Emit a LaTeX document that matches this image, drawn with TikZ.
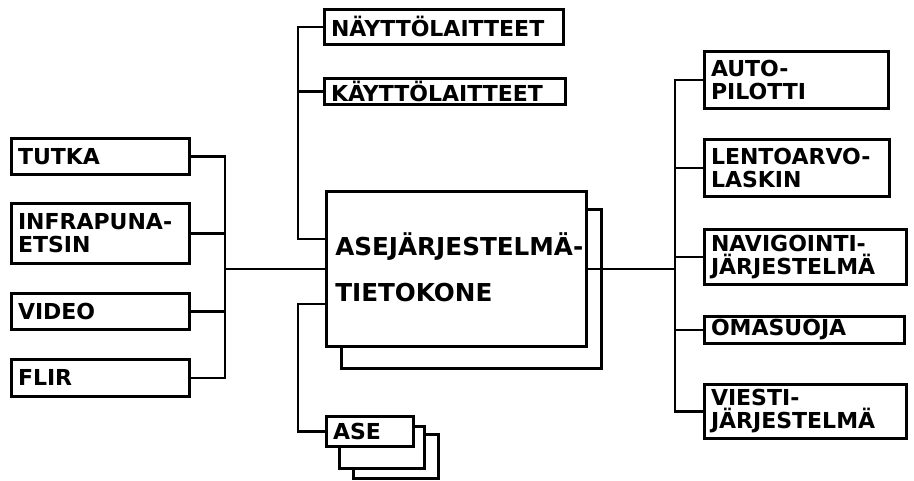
\documentclass[tikz,border=0pt]{standalone}
\usepackage{fontspec}
\setmainfont{DejaVu Sans}
\usetikzlibrary{calc}

\newcommand\lblfont{\bfseries\fontsize{16.5}{17.5}\selectfont}
\newcommand\cpufont{\bfseries\fontsize{18.5}{35}\selectfont}

\tikzset{
  box/.style={draw, fill=white, line width=2pt, inner xsep=5pt, inner ysep=0pt,
              align=left, font=\lblfont},
  wire/.style={line width=2pt},
}

% box from its top-left (x1,y1) to its bottom-right (x2,y2), in pixel units
\newcommand\bx[7][]{%
  \pgfmathsetmacro\bxw{(#5-#3)*0.75}%
  \pgfmathsetmacro\bxh{(#6-#4)*0.75}%
  \pgfmathsetmacro\bxt{(#5-#3)*0.75-10}%
  \node[box, minimum width=\bxw pt, minimum height=\bxh pt, text width=\bxt pt,
        anchor=north west, #1] (#2) at (#3,#4) {#7};%
}

\begin{document}
\begin{tikzpicture}[x=0.75pt, y=-0.75pt]
\useasboundingbox[fill=white] (0,0) rectangle (914,480);

% main computer with its shadow sheet
\bx{shadow}{340}{208}{600}{367}{}
\bx{main}{325}{190}{585}{345}{}
\node[font=\cpufont, align=left, inner sep=0pt, anchor=north west] (maintext) at (335,232)
  {ASEJÄRJESTELMÄ-\\TIETOKONE};

% displays and controls
\bx{nayt}{323}{8}{562}{43}{\mbox{NÄYTTÖLAITTEET}}
\bx{kayt}{323}{77}{564}{103}{\mbox{KÄYTTÖLAITTEET}}

% sensors
\bx{tutka}{10}{137}{188}{173}{TUTKA}
\bx{infra}{10}{202}{188}{262}{\mbox{INFRAPUNA-}\\ETSIN}
\bx{video}{10}{292}{188}{328}{VIDEO}
\bx{flir}{10}{358}{188}{395}{FLIR}

% aircraft systems
\bx{auto}{703}{50}{887}{107}{\mbox{AUTO-}\\PILOTTI}
\bx{lento}{703}{138}{888}{195}{\mbox{LENTOARVO-}\\LASKIN}
\bx{navi}{703}{228}{905}{283}{\mbox{NAVIGOINTI-}\\\mbox{JÄRJESTELMÄ}}
\bx{oma}{703}{315}{903}{342}{OMASUOJA}
\bx{viesti}{703}{383}{905}{437}{\mbox{VIESTI-}\\\mbox{JÄRJESTELMÄ}}

% stack of weapons
\bx{ase3}{352}{433}{437}{477}{}
\bx{ase2}{338}{425}{423}{467}{}
\bx{ase}{325}{415}{412}{445}{ASE}

% bus positions
\coordinate (lbus) at (225,0);
\coordinate (tbus) at (298,0);
\coordinate (rbus) at (675,0);

% sensor bus
\draw[wire] (tutka.east) -| (lbus |- main.west) |- (flir.east);
\draw[wire] (infra.east) -- (infra.east -| lbus);
\draw[wire] (video.east) -- (video.east -| lbus);
\draw[wire] (lbus |- main.west) -- (main.west);

% displays / controls bus
\coordinate (mup) at ($(main.west)+(0,-30)$);
\coordinate (mdn) at ($(main.west)+(0,35)$);
\draw[wire] (nayt.west) -| (tbus |- mup) -- (mup);
\draw[wire] (kayt.west) -- (kayt.west -| tbus);

% weapons line
\draw[wire] (mdn) -- (tbus |- mdn) |- (ase.west);

% aircraft systems bus
\draw[wire] (main.east) -- (rbus |- main.east);
\draw[wire] (auto.west) -| (rbus |- main.east) |- (viesti.west);
\draw[wire] (lento.west) -- (lento.west -| rbus);
\draw[wire] (navi.west) -- (navi.west -| rbus);
\draw[wire] (oma.west) -- (oma.west -| rbus);
\end{tikzpicture}
\end{document}
